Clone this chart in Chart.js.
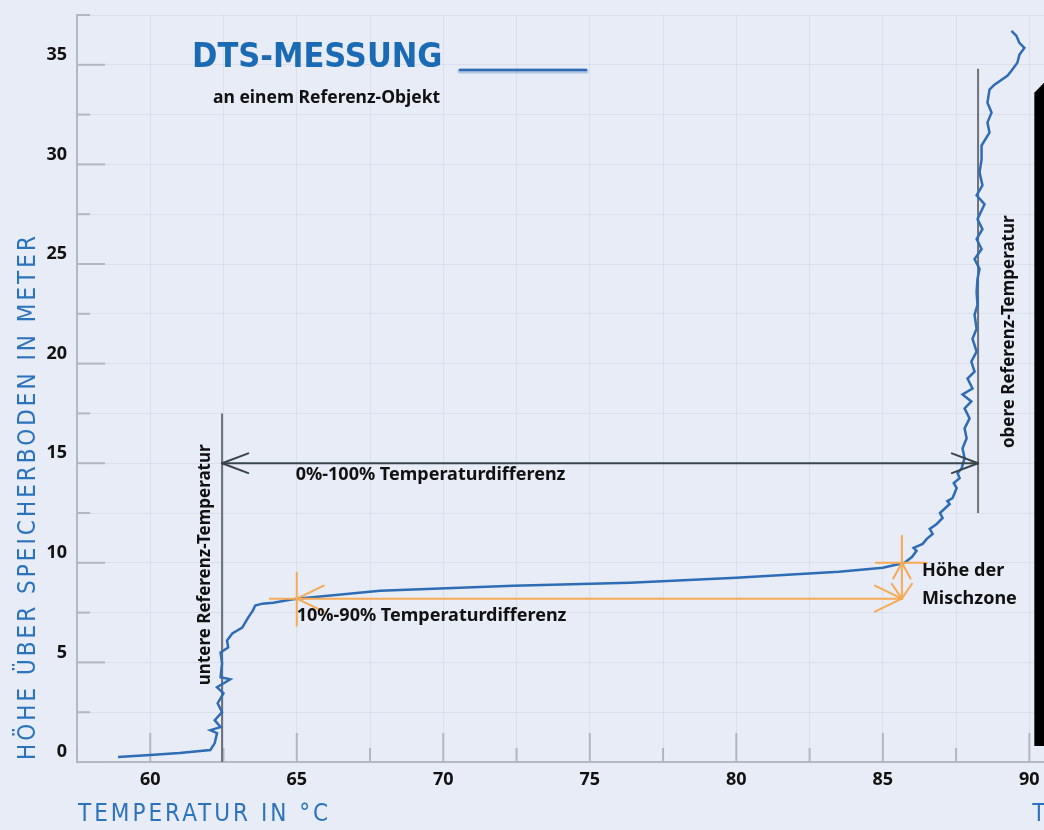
<!DOCTYPE html>
<html lang="de">
<head>
<meta charset="UTF-8">
<title>DTS-Messung</title>
<script src="https://cdn.jsdelivr.net/npm/chart.js"></script>
<style>
  html, body { margin: 0; padding: 0; background: #e8ecf6; }
</style>
</head>
<body>
<canvas id="myChart" width="1044" height="830"></canvas>
<script>
// Messkurve: Temperatur (°C) und Höhe über Speicherboden (m)
const temperatur = [58.9, 60.0, 61.0, 62.05, 62.2, 62.28, 62.05, 62.4, 62.2, 62.45, 62.3, 62.5, 62.28, 62.73, 62.4, 62.45, 62.4, 62.66, 62.62, 62.8,
  63.14, 63.34, 63.5, 63.58, 63.82, 64.2, 64.77, 65.0, 67.84, 72.38, 76.37, 80.0, 83.5, 85.0, 85.74, 86.0, 86.15, 86.05, 86.36, 86.5,
  86.7, 86.6, 86.84, 87.04, 86.95, 87.28, 87.2, 87.38, 87.52, 87.42, 87.62, 87.55, 87.69, 87.79, 87.72, 87.86, 87.79, 87.96, 87.79, 88.02,
  87.72, 88.06, 87.89, 88.13, 88.02, 88.2, 88.06, 88.2, 88.13, 88.23, 88.2, 88.23, 88.3, 88.13, 88.37, 88.2, 88.4, 88.23, 88.47, 88.2,
  88.4, 88.3, 88.37, 88.37, 88.64, 88.57, 88.71, 88.57, 88.64, 88.81, 89.25, 89.39, 89.59, 89.66, 89.83, 89.66, 89.56, 89.39];
const hoehe = [0.25, 0.35, 0.45, 0.6, 0.95, 1.45, 1.6, 1.75, 2.1, 2.5, 2.95, 3.45, 3.75, 4.15, 4.25, 4.95, 5.5, 5.75, 6.1, 6.45,
  6.75, 7.25, 7.6, 7.85, 7.95, 8.0, 8.15, 8.2, 8.6, 8.85, 9.0, 9.25, 9.55, 9.75, 10.0, 10.3, 10.6, 10.75, 10.95, 11.2,
  11.45, 11.7, 11.95, 12.25, 12.5, 12.95, 13.1, 13.25, 13.75, 14.0, 14.25, 14.5, 14.75, 15.25, 15.75, 16.25, 16.75, 17.25, 17.75, 18.1,
  18.45, 18.75, 19.25, 19.6, 20.1, 20.6, 21.25, 21.75, 22.45, 22.95, 23.6, 24.25, 24.75, 25.25, 25.75, 26.25, 26.75, 27.25, 28.0, 28.45,
  28.95, 29.6, 30.25, 30.95, 31.6, 32.1, 32.6, 33.1, 33.75, 34.0, 34.45, 34.7, 35.1, 35.5, 35.85, 36.1, 36.45, 36.7];

const xTickLabels = [60, 65, 70, 75, 80, 85, 90];
const yTickLabels = [0, 5, 10, 15, 20, 25, 30, 35];

// Referenz-Temperaturen [unten, oben] und die Spannweite der Linien
const refTemp = [62.45, 88.25];
const refLineUnten = [0, 17.5];
const refLineOben = [12.5, 34.8];
const diffHoehe = 15;
// Mischzone: 10% / 90% Temperatur, Höhe unten / oben
const mischTemp = [65.0, 85.65];
const mischHoehe = [8.2, 10.0];

const blau = '#2e6db5';
const orange = '#f6aa55';
const dunkel = '#38454c';
const titelBlau = '#2b74bd';

const ctx = document.getElementById('myChart');

// Hauptstriche plus Zwischenstriche (halber Abstand)
function tickWerte(labels, vorne, hinten) {
    const werte = [];
    const halb = (labels[1] - labels[0]) / 2;
    if (vorne) werte.push(labels[0] - halb);
    labels.forEach((v, i) => {
        werte.push(v);
        if (i < labels.length - 1 || hinten) werte.push(v + halb);
    });
    return werte.map(v => ({ value: v }));
}

function seg(c, a, b) {
    c.beginPath();
    c.moveTo(a[0], a[1]);
    c.lineTo(b[0], b[1]);
    c.stroke();
}
// offene Pfeilspitze, ang = Richtung in die der Pfeil zeigt
function head(c, tip, ang, len, spread) {
    [-spread, spread].forEach(s => {
        const a = ang + Math.PI + s;
        seg(c, tip, [tip[0] + len * Math.cos(a), tip[1] + len * Math.sin(a)]);
    });
}
function txt(c, s, x, y, font, color, align, rot, spacing) {
    c.save();
    c.translate(x, y);
    if (rot) c.rotate(rot);
    c.font = font;
    c.fillStyle = color;
    c.textAlign = align || 'left';
    c.textBaseline = 'middle';
    if (spacing) c.letterSpacing = spacing;
    c.fillText(s, 0, 0);
    c.restore();
}

const hintergrund = {
    id: 'hintergrund',
    beforeDraw(chart) {
        const c = chart.ctx;
        c.save();
        c.fillStyle = '#e8ecf6';
        c.fillRect(0, 0, chart.width, chart.height);
        c.restore();
    }
};

const deko = {
    id: 'deko',
    beforeDatasetsDraw(chart) {
        const c = chart.ctx, xs = chart.scales.x, ys = chart.scales.y;
        const P = (x, y) => [xs.getPixelForValue(x), ys.getPixelForValue(y)];
        c.save();
        // kleine Striche innen an den Achsen
        c.strokeStyle = '#b2b6c0';
        c.lineWidth = 2;
        xs.ticks.forEach(t => {
            const px = xs.getPixelForValue(t.value);
            const len = xTickLabels.includes(t.value) ? 29 : 14;
            seg(c, [px, ys.bottom], [px, ys.bottom - len]);
        });
        ys.ticks.forEach(t => {
            const py = ys.getPixelForValue(t.value);
            const len = yTickLabels.includes(t.value) ? 28 : 13;
            seg(c, [xs.left, py], [xs.left + len, py]);
        });
        // Referenzlinien
        c.strokeStyle = '#6d7178';
        c.lineWidth = 2;
        seg(c, P(refTemp[0], refLineUnten[0]), P(refTemp[0], refLineUnten[1]));
        seg(c, P(refTemp[1], refLineOben[0]), P(refTemp[1], refLineOben[1]));
        c.restore();
    },
    afterDatasetsDraw(chart) {
        const c = chart.ctx, xs = chart.scales.x, ys = chart.scales.y;
        const P = (x, y) => [xs.getPixelForValue(x), ys.getPixelForValue(y)];
        const bold = 'bold 18px "Noto Sans"';
        c.save();
        c.lineCap = 'round';

        // 0%-100% Pfeil
        c.strokeStyle = dunkel;
        c.lineWidth = 2;
        const a0 = P(refTemp[0], diffHoehe), a1 = P(refTemp[1], diffHoehe);
        seg(c, a0, a1);
        head(c, a0, Math.PI, 28, 0.36);
        head(c, a1, 0, 28, 0.36);

        // Mischzone (orange)
        c.strokeStyle = orange;
        c.lineWidth = 2;
        const m0 = P(mischTemp[0], mischHoehe[0]);
        const m1 = P(mischTemp[1], mischHoehe[0]);
        const m2 = P(mischTemp[1], mischHoehe[1]);
        seg(c, [m0[0] - 27, m0[1]], m1);
        seg(c, [m0[0], m0[1] - 26], [m0[0], m0[1] + 27]);
        head(c, m0, Math.PI, 30, 0.45);
        head(c, m1, 0, 30, 0.45);
        seg(c, m1, [m2[0], m2[1] - 27]);
        seg(c, [m2[0] - 26, m2[1]], [m2[0] + 25, m2[1]]);
        head(c, m2, -Math.PI / 2, 18, 0.5);
        head(c, m1, Math.PI / 2, 18, 0.6);

        // Beschriftungen
        txt(c, '0%-100% Temperaturdifferenz', xs.getPixelForValue(mischTemp[0]) - 1, a0[1] + 12, bold, '#111');
        txt(c, '10%-90% Temperaturdifferenz', m0[0], m0[1] + 17, bold, '#111');
        txt(c, 'Höhe der', m2[0] + 20, m2[1] + 8, bold, '#111');
        txt(c, 'Mischzone', m2[0] + 20, m1[1], bold, '#111');
        txt(c, 'untere Referenz-Temperatur', xs.getPixelForValue(refTemp[0]) - 17, ys.getPixelForValue(9.9), 'bold 17px "Noto Sans"', '#111', 'center', -Math.PI / 2);
        txt(c, 'obere Referenz-Temperatur', xs.getPixelForValue(refTemp[1]) + 31, ys.getPixelForValue(21.6), 'bold 17px "Noto Sans"', '#111', 'center', -Math.PI / 2);

        // Titel und Legende
        txt(c, 'DTS-MESSUNG', 192, 58, 'bold 34px "DejaVu Sans Condensed"', '#1b6bb4');
        txt(c, 'an einem Referenz-Objekt', 213, 98, 'bold 17.5px "Noto Sans"', '#111');
        c.strokeStyle = 'rgba(46,109,181,0.3)';
        c.lineWidth = 5;
        seg(c, [460, 71], [586, 71]);
        c.strokeStyle = chart.data.datasets[0].borderColor;
        c.lineWidth = 2.5;
        seg(c, [460, 70], [586, 70]);
        c.restore();
    },
    afterDraw(chart) {
        const c = chart.ctx, xs = chart.scales.x, ys = chart.scales.y;
        const titelFont = '24px "DejaVu Sans Condensed"';
        c.save();
        // Achsentitel
        txt(c, 'TEMPERATUR IN °C', xs.left + 1, chart.height - 15, titelFont, titelBlau, 'left', 0, '3px');
        txt(c, 'HÖHE ÜBER SPEICHERBODEN IN METER', 29, ys.bottom - 2, titelFont, titelBlau, 'left', -Math.PI / 2, '3px');
        // schwarzer Balken am rechten Rand
        const l = xs.getPixelForValue(90.17), r = chart.width;
        const t = ys.getPixelForValue(34.1), b = ys.getPixelForValue(0.8);
        c.fillStyle = '#000';
        c.beginPath();
        c.moveTo(l, t + 10);
        c.lineTo(r, t);
        c.lineTo(r, b);
        c.lineTo(l, b);
        c.closePath();
        c.fill();
        // abgeschnittener Titel rechts unten
        txt(c, 'TEMPERATUR IN °C', l - 2, chart.height - 15, titelFont, titelBlau, 'left', 0, '3px');
        c.restore();
    }
};

const tickFont = { family: 'Noto Sans', weight: 'bold', size: 18 };

new Chart(ctx, {
    type: 'scatter',
    data: {
        datasets: [{
            label: 'DTS-Messung',
            data: temperatur.map((t, i) => ({ x: t, y: hoehe[i] })),
            showLine: true,
            borderColor: blau,
            borderWidth: 2.5,
            pointRadius: 0,
            tension: 0
        }]
    },
    options: {
        responsive: false,
        animation: false,
        layout: { padding: { top: 15, right: 0, left: 0, bottom: 0 } },
        plugins: { legend: { display: false }, tooltip: { enabled: false } },
        scales: {
            x: {
                type: 'linear',
                min: 57.5,
                max: 90.5,
                afterFit: s => { s.height = 68; },
                afterBuildTicks: s => { s.ticks = tickWerte(xTickLabels, true, false); },
                ticks: {
                    autoSkip: false,
                    maxRotation: 0,
                    padding: 0,
                    color: '#111',
                    font: tickFont,
                    callback: v => xTickLabels.includes(v) ? String(v) : ''
                },
                grid: { color: 'rgba(200,206,222,0.4)', tickLength: 7, tickColor: 'rgba(0,0,0,0)' },
                border: { color: '#b4b8c2', width: 2 }
            },
            y: {
                min: 0,
                max: 37.5,
                afterFit: s => { s.width = 77; },
                afterBuildTicks: s => { s.ticks = tickWerte(yTickLabels, false, true); },
                ticks: {
                    autoSkip: false,
                    padding: 0,
                    labelOffset: -10,
                    color: '#111',
                    font: tickFont,
                    callback: v => yTickLabels.includes(v) ? String(v) : ''
                },
                grid: { color: 'rgba(200,206,222,0.4)', tickLength: 10, tickColor: 'rgba(0,0,0,0)' },
                border: { color: '#b4b8c2', width: 2 }
            }
        }
    },
    plugins: [hintergrund, deko]
});
</script>
</body>
</html>
